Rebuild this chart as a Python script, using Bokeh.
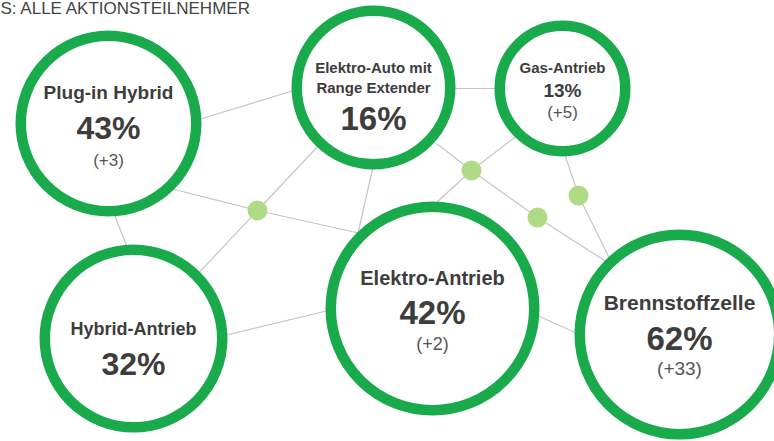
from bokeh.plotting import figure
from bokeh.models import Range1d
from bokeh.core.properties import value
from bokeh.embed import file_html
from bokeh.resources import INLINE

# ---------------- data ----------------
title = "S: ALLE AKTIONSTEILNEHMER"
label_lines = [
    ["Plug-in Hybrid"],
    ["Elektro-Auto mit", "Range Extender"],
    ["Gas-Antrieb"],
    ["Hybrid-Antrieb"],
    ["Elektro-Antrieb"],
    ["Brennstoffzelle"],
]
categories = [" ".join(l) for l in label_lines]
shares = [43, 16, 13, 32, 42, 62]
changes = [3, None, 5, None, 2, 33]

# ---------------- layout (pixels, y down) ----------------
cx = [108, 373, 562, 133, 432, 679]
cy = [123, 87, 88, 338, 308, 334]
r_outer = [93, 82, 68, 94, 107, 105]
label_y = [92, 67, 67, 328, 277, 302]
line_gap = 20
pct_y = [127, 118, 90, 363, 312, 338]
chg_y = [160, None, 112, None, 343, 368]
label_size = [19, 15, 15, 18, 20, 21]
pct_size = [32, 33, 19, 32, 33, 33]
chg_size = [17, None, 17, None, 18, 19]

dot_x = [257, 471, 537, 578]
dot_y = [210, 170, 217, 195]

edge_x0 = [195, 170, 113, 257, 257, 257, 220, 374, 450, 436, 471, 471, 471, 537, 563, 578, 528]
edge_y0 = [120, 188, 212, 210, 210, 210, 336, 160, 88, 143, 170, 170, 170, 217, 150, 195, 311]
edge_x1 = [300, 257, 128, 193, 320, 360, 332, 357, 500, 471, 425, 518, 537, 607, 578, 611, 588]
edge_y1 = [88, 210, 250, 278, 143, 233, 309, 235, 88, 170, 212, 134, 217, 262, 195, 262, 338]

W, H = 774, 441
ring_w = 10.5
ring_color = "#19aa4c"
dot_color = "#b0db86"
edge_color = "#c4c6c4"
text_color = "#3d3d3d"
font = value("Liberation Sans")

p = figure(width=W, height=H, x_range=Range1d(0, W), y_range=Range1d(H, 0),
           output_backend="svg", toolbar_location=None, min_border=0)
p.axis.visible = False
p.grid.visible = False
p.outline_line_color = None
p.background_fill_color = "white"
p.border_fill_color = "white"

# edges
p.segment(x0=edge_x0, y0=edge_y0, x1=edge_x1, y1=edge_y1,
          line_color=edge_color, line_width=1.2)

# junction dots
p.scatter(x=dot_x, y=dot_y, size=20, marker="circle",
          fill_color=dot_color, line_color=None)

# rings
p.circle(x=cx, y=cy, radius=[r - ring_w / 2 for r in r_outer],
         fill_color="white", line_color=ring_color, line_width=ring_w)

# labels
lx, ly, lt, ls = [], [], [], []
for i, lines in enumerate(label_lines):
    for j, t in enumerate(lines):
        lx.append(cx[i]); ly.append(label_y[i] + j * line_gap)
        lt.append(t); ls.append(f"{label_size[i]}px")
p.text(x=lx, y=ly, text=lt, text_font_size=ls, text_font=font,
       text_font_style="bold", text_color=text_color,
       text_align="center", text_baseline="middle")

# percentages
p.text(x=cx, y=pct_y, text=[f"{s}%" for s in shares],
       text_font_size=[f"{s}px" for s in pct_size], text_font=font,
       text_font_style="bold", text_color=text_color,
       text_align="center", text_baseline="middle")

# changes
ix = [i for i, c in enumerate(changes) if c is not None]
p.text(x=[cx[i] for i in ix], y=[chg_y[i] for i in ix],
       text=[f"(+{changes[i]})" for i in ix],
       text_font_size=[f"{chg_size[i]}px" for i in ix], text_font=font,
       text_color="#555555", text_align="center", text_baseline="middle")

# title
p.text(x=[0], y=[8], text=[title], text_font_size="17px", text_font=font,
       text_color="#444444", text_align="left", text_baseline="middle")

open("out.html", "w").write(file_html(p, INLINE))
